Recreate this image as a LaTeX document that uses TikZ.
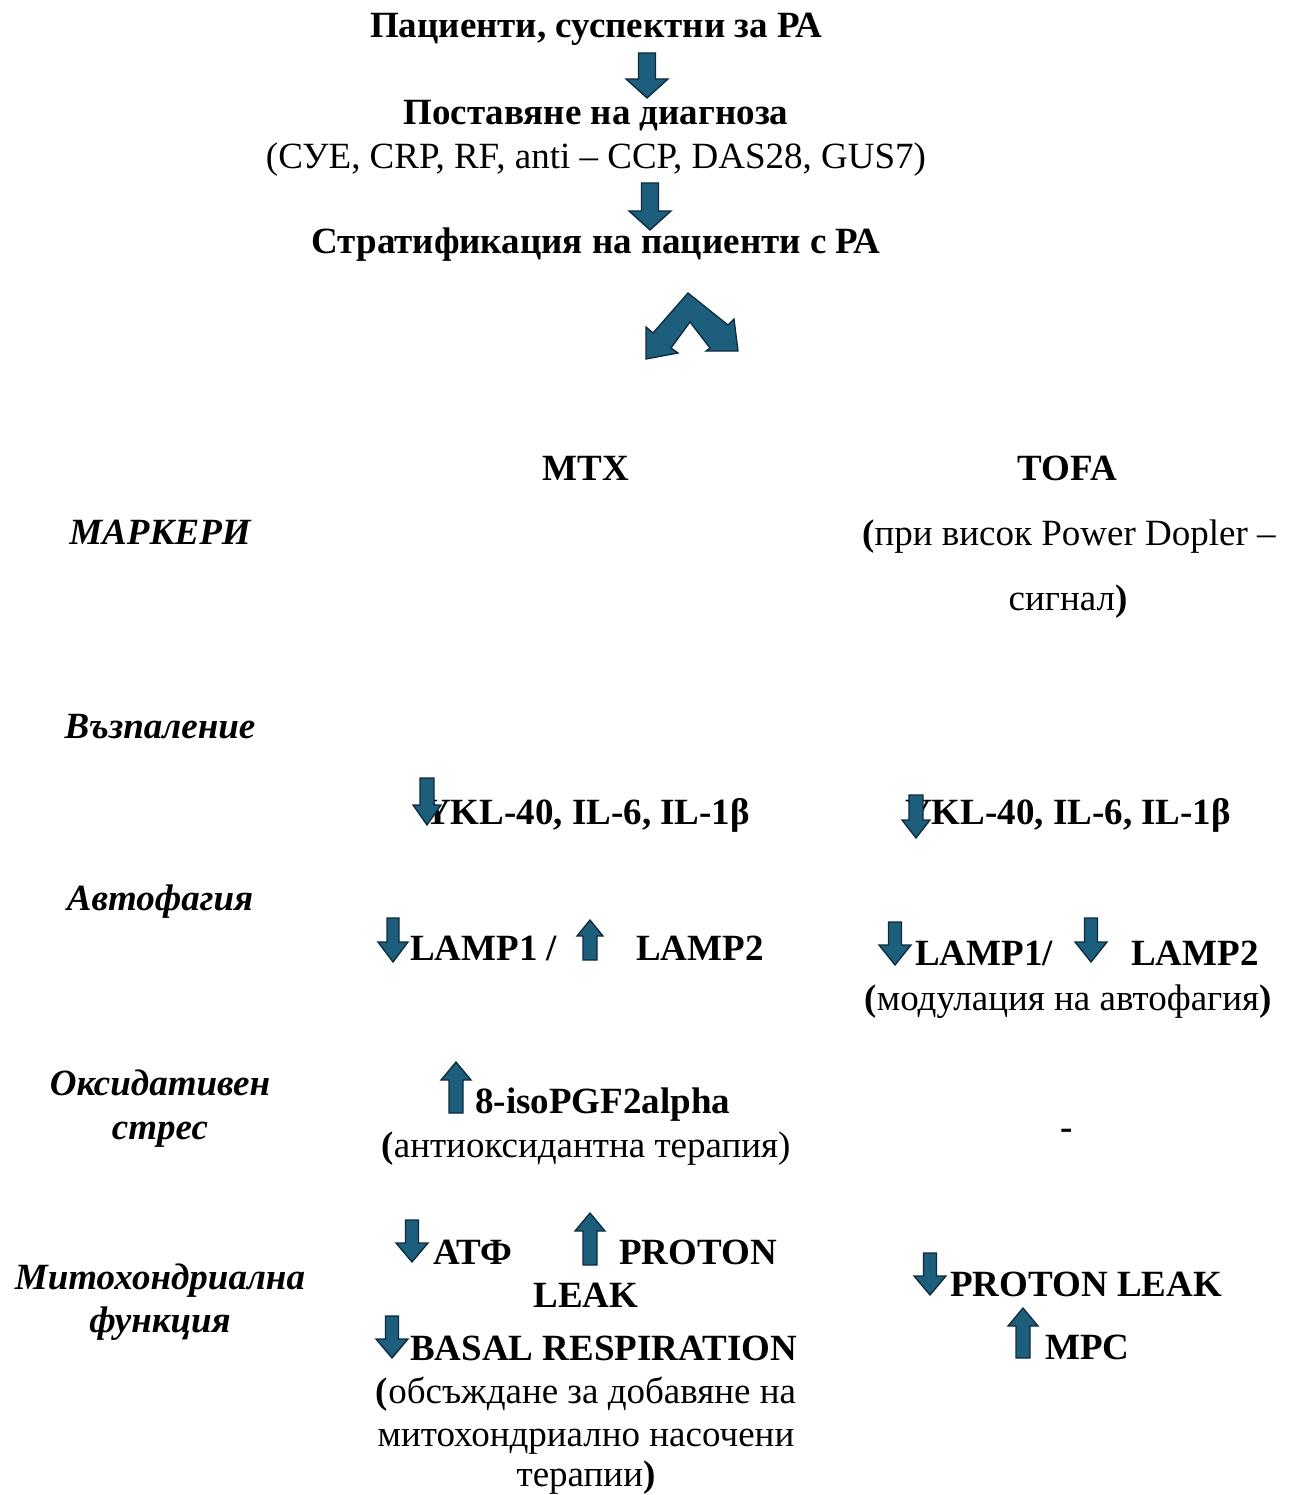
\documentclass[tikz,border=0pt]{standalone}
\usepackage{fontspec}
\setmainfont{Liberation Serif}
\definecolor{arrfill}{RGB}{28,94,124}
\definecolor{arrline}{RGB}{14,42,58}
\newcommand{\DArr}[6]{% x, ytop, total h, head h, head w, shaft w
  \draw[arrstyle] (#1-#6/2,#2) -- (#1+#6/2,#2) -- (#1+#6/2,#2+#3-#4) -- (#1+#5/2,#2+#3-#4)
    -- (#1,#2+#3) -- (#1-#5/2,#2+#3-#4) -- (#1-#6/2,#2+#3-#4) -- cycle;}
\newcommand{\UArr}[6]{% x, ybottom, total h, head h, head w, shaft w
  \draw[arrstyle] (#1-#6/2,#2) -- (#1+#6/2,#2) -- (#1+#6/2,#2-#3+#4) -- (#1+#5/2,#2-#3+#4)
    -- (#1,#2-#3) -- (#1-#5/2,#2-#3+#4) -- (#1-#6/2,#2-#3+#4) -- cycle;}
\begin{document}
\begin{tikzpicture}[x=1pt,y=-1pt,
  txt/.style={inner sep=0pt,anchor=base,font=\fontsize{37}{41}\selectfont},
  txtw/.style={inner sep=0pt,anchor=base west,font=\fontsize{37}{41}\selectfont},
  b/.append style={font=\fontsize{37}{41}\selectfont\bfseries},
  hd/.style={txt,font=\fontsize{37}{41}\selectfont\bfseries\itshape},
  arrstyle/.style={fill=arrfill,draw=arrline,line width=1.3pt,line join=miter}]
\useasboundingbox (0,0) rectangle (1293,1495);
% top flow
\node[txt,b] (t1) at (596,38) {Пациенти, суспектни за РА};
\DArr{647}{53}{45}{19}{42}{17}
\node[txt,b] (t2) at (596,125) {Поставяне на диагноза};
\node[txt] (t3) at (596,169) {(СУЕ, CRP, RF, anti – CCP, DAS28, GUS7)};
\DArr{650}{183}{47}{19}{42}{17}
\node[txt,b] (t4) at (596,254) {Стратификация на пациенти с РА};
% split chevron arrow
\draw[arrstyle] (688,293) -- (728,325) -- (734,319) -- (738,351) -- (706,351) -- (710,348)
  -- (690,322) -- (671,348) -- (678,353) -- (646,359) -- (646,327) -- (653,333) -- cycle;
% column headers
\node[txt,b] (mtx) at (586,480) {MTX};
\node[txt,b] (tofa) at (1067,480) {TOFA};
\node[hd] (h1) at (160,544) {МАРКЕРИ};
\node[txt] (tofa2) at (1069,545) {\textbf{(}при висок Power Dopler –};
\node[txt] (tofa3) at (1068,610) {сигнал\textbf{)}};
% inflammation
\node[hd] (h2) at (160,738) {Възпаление};
\node[txt,b] (ykl1) at (587,824) {YKL-40, IL-6, IL-1β};
\DArr{427}{778}{47}{20}{28}{14}
\node[txt,b] (ykl2) at (1068,824) {YKL-40, IL-6, IL-1β};
\DArr{916}{795}{43}{18}{28}{14}
% autophagy
\node[hd] (h3) at (160,910) {Автофагия};
\node[txtw,b] (lm1) at (410,960) {LAMP1 /};
\DArr{393}{918}{44}{20}{30}{12}
\UArr{590}{960}{40}{16}{26}{14}
\node[txtw,b] (lm2) at (636,960) {LAMP2};
\node[txtw,b] (lt1) at (915,965) {LAMP1/};
\DArr{895}{922}{43}{20}{32}{13}
\DArr{1091}{918}{44}{20}{32}{13}
\node[txtw,b] (lt2) at (1131,965) {LAMP2};
\node[txt] (lt3) at (1068,1010) {\textbf{(}модулация на автофагия\textbf{)}};
% oxidative stress
\node[hd] (h4a) at (160,1095) {Оксидативен};
\node[hd] (h4b) at (160,1139) {стрес};
\UArr{456}{1113}{51}{18}{30}{14}
\node[txtw,b] (iso) at (475,1113) {8-isoPGF2alpha};
\node[txt] (iso2) at (586,1157) {\textbf{(}антиоксидантна терапия)};
\node[txt,b] (dash) at (1067,1139) {-};
% mitochondrial function
\node[hd] (h5a) at (160,1289) {Митохондриална};
\node[hd] (h5b) at (160,1332) {функция};
\DArr{412}{1220}{42}{19}{32}{13}
\node[txtw,b] (atf) at (433,1264) {АТФ};
\UArr{590}{1265}{52}{18}{30}{14}
\node[txtw,b] (pr1) at (619,1264) {PROTON};
\node[txt,b] (lk1) at (586,1307) {LEAK};
\DArr{392}{1316}{42}{19}{32}{13}
\node[txtw,b] (bas) at (410,1360) {BASAL RESPIRATION};
\node[txt] (m1) at (586,1403) {\textbf{(}обсъждане за добавяне на};
\node[txt] (m2) at (586,1446) {митохондриално насочени};
\node[txt] (m3) at (586,1486) {терапии\textbf{)}};
\DArr{930}{1253}{42}{19}{32}{13}
\node[txtw,b] (pl2) at (950,1296) {PROTON LEAK};
\UArr{1023}{1358}{50}{18}{30}{14}
\node[txtw,b] (mpc) at (1045,1359) {MPC};
\end{tikzpicture}
\end{document}
